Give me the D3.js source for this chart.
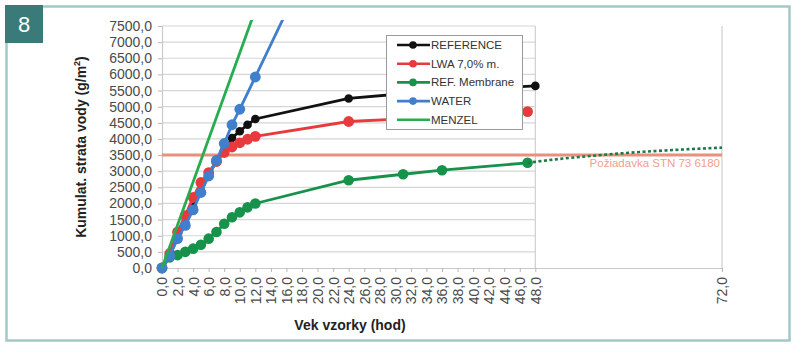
<!DOCTYPE html>
<html>
<head>
<meta charset="utf-8">
<script src="https://cdn.jsdelivr.net/npm/d3@7"></script>
<style>
  html, body { margin: 0; padding: 0; background: #fff; }
  svg { display: block; font-family: "Liberation Sans", Arial, sans-serif; }
</style>
</head>
<body>
<svg id="chart" width="796" height="347"></svg>
<script>
// Cumulative water loss (g/m²) versus specimen age (hours)
const referenceHours = [0, 1, 2, 3, 4, 5, 6, 7, 8, 9, 10, 11, 12, 24, 31, 36, 48];
const referenceValues = [0, 400, 950, 1400, 1900, 2400, 2900, 3300, 3650, 4030, 4240, 4440, 4620, 5255, 5400, 5480, 5644];

const lwaHours = [0, 1, 2, 3, 4, 5, 6, 7, 8, 9, 10, 11, 12, 24, 31, 36, 47];
const lwaValues = [0, 450, 1115, 1625, 2190, 2650, 2955, 3300, 3580, 3750, 3880, 3990, 4080, 4540, 4620, 4700, 4847];

const membraneHours = [0, 1, 2, 3, 4, 5, 6, 7, 8, 9, 10, 11, 12, 24, 31, 36, 47];
const membraneValues = [0, 330, 400, 500, 600, 720, 910, 1115, 1370, 1575, 1725, 1880, 2000, 2720, 2905, 3030, 3260];

const waterHours = [0, 1, 2, 3, 4, 5, 6, 7, 8, 9, 10, 12, 16];
const waterValues = [0, 370, 910, 1320, 1800, 2340, 2850, 3335, 3860, 4440, 4920, 5920, 7940];

const menzelHours = [0, 12];
const menzelValues = [0, 8000];

// extrapolated continuation of the membrane curve
const trendHours = [47, 50, 55, 60, 66, 72];
const trendValues = [3260, 3350, 3470, 3570, 3660, 3730];

const requirementValue = 3500;
const requirementLabel = "Požiadavka STN 73 6180";

const xTickValues = d3.range(0, 49, 2).concat([72]);
const yTickValues = d3.range(0, 7501, 500);

const seriesNames = ["REFERENCE", "LWA 7,0% m.", "REF. Membrane", "WATER", "MENZEL"];
const seriesColors = ["#111111", "#e83a3c", "#16924a", "#3f7fcb", "#27ad4f"];

const svg = d3.select("#chart");

// frame and number badge
svg.append("rect").attr("x", 6.5).attr("y", 6.5).attr("width", 783).attr("height", 334)
  .attr("fill", "none").attr("stroke", "#a3c8c7").attr("stroke-width", 2.5);
svg.append("rect").attr("x", 5).attr("y", 5).attr("width", 38).attr("height", 38).attr("fill", "#3a7b79");
svg.append("text").attr("x", 24).attr("y", 32).attr("text-anchor", "middle")
  .attr("fill", "#fff").attr("font-size", 22).text("8");

const x = d3.scaleLinear().domain([0, 72]).range([162, 722]);
const y = d3.scaleLinear().domain([0, 7500]).range([268, 26]);

const fmt = v => d3.format(".1f")(v).replace(".", ",");

// horizontal grid (0–48 h region)
svg.append("g").selectAll("line").data(yTickValues.slice(1)).join("line")
  .attr("x1", x(0)).attr("x2", x(48))
  .attr("y1", d => y(d)).attr("y2", d => y(d))
  .attr("stroke", "#d6d6d6").attr("stroke-width", 1.2);

// vertical border lines at 48 h and 72 h
svg.append("g").selectAll("line").data([48, 72]).join("line")
  .attr("x1", d => x(d)).attr("x2", d => x(d))
  .attr("y1", y(7500)).attr("y2", y(0))
  .attr("stroke", "#cfcfcf").attr("stroke-width", 1.2);

// axes
const yAxis = svg.append("g").attr("transform", `translate(${x(0)},0)`)
  .call(d3.axisLeft(y).tickValues(yTickValues).tickFormat(fmt).tickSize(4).tickPadding(6));
const xAxis = svg.append("g").attr("transform", `translate(0,${y(0)})`)
  .call(d3.axisBottom(x).tickValues(xTickValues).tickFormat(fmt).tickSize(4));
[yAxis, xAxis].forEach(g => {
  g.select(".domain").attr("stroke", "#c8c8c8").attr("stroke-width", 1.2);
  g.selectAll(".tick line").attr("stroke", "#b8b8b8");
  g.selectAll("text").attr("fill", "#4a4a4a").attr("font-size", 14)
    .attr("font-family", "\"Liberation Sans\", Arial, sans-serif");
});
xAxis.selectAll("text")
  .attr("transform", "rotate(-90)")
  .attr("text-anchor", "end")
  .attr("x", -9).attr("y", 0).attr("dy", "0.35em");

// axis titles
svg.append("text")
  .attr("transform", `translate(86,${(y(0) + y(7500)) / 2}) rotate(-90)`)
  .attr("text-anchor", "middle").attr("font-size", 14).attr("font-weight", "bold").attr("fill", "#222")
  .call(t => {
    t.append("tspan").text("Kumulat. strata vody (g/m");
    t.append("tspan").attr("font-size", 9).attr("dy", -6).text("2");
    t.append("tspan").attr("dy", 6).text(")");
  });
svg.append("text").attr("x", 350).attr("y", 330).attr("text-anchor", "middle")
  .attr("font-size", 14).attr("font-weight", "bold").attr("fill", "#222").text("Vek vzorky (hod)");

// requirement line
svg.append("line").attr("x1", x(0)).attr("x2", x(72))
  .attr("y1", y(requirementValue)).attr("y2", y(requirementValue))
  .attr("stroke", "#e8907c").attr("stroke-width", 3);
svg.append("text").attr("x", x(72) - 2).attr("y", y(requirementValue) + 12)
  .attr("text-anchor", "end").attr("font-size", 11.5).attr("fill", "#f0a08c").text(requirementLabel);

// series
svg.append("clipPath").attr("id", "clip").append("rect")
  .attr("x", 0).attr("y", 20).attr("width", 796).attr("height", 327);
const plot = svg.append("g").attr("clip-path", "url(#clip)");

const line = d3.line().x(d => x(d[0])).y(d => y(d[1]));
const zipPts = (hs, vs) => hs.map((h, i) => [h, vs[i]]);

const series = [
  { pts: zipPts(referenceHours, referenceValues), color: seriesColors[0], marker: 4.3 },
  { pts: zipPts(lwaHours, lwaValues), color: seriesColors[1], marker: 5.4 },
  { pts: zipPts(membraneHours, membraneValues), color: seriesColors[2], marker: 5.3 },
  { pts: zipPts(waterHours, waterValues), color: seriesColors[3], marker: 5.4 },
  { pts: zipPts(menzelHours, menzelValues), color: seriesColors[4], marker: 0 }
];

series.forEach((s, i) => {
  plot.append("path").datum(s.pts).attr("d", line)
    .attr("fill", "none").attr("stroke", s.color).attr("stroke-width", 2.8);
  if (s.marker > 0) {
    plot.append("g").selectAll("circle").data(s.pts).join("circle")
      .attr("cx", d => x(d[0])).attr("cy", d => y(d[1])).attr("r", s.marker)
      .attr("fill", s.color);
  }
  if (i === 2) {
    plot.append("path").datum(zipPts(trendHours, trendValues))
      .attr("d", d3.line().x(d => x(d[0])).y(d => y(d[1])).curve(d3.curveMonotoneX))
      .attr("fill", "none").attr("stroke", "#1b7a45").attr("stroke-width", 2.6)
      .attr("stroke-dasharray", "3,2.5");
  }
});

// legend
const lg = svg.append("g");
lg.append("rect").attr("x", 386.5).attr("y", 35.5).attr("width", 136).attr("height", 94)
  .attr("fill", "#fff").attr("stroke", "#9a9a9a").attr("stroke-width", 1);
seriesNames.forEach((name, i) => {
  const ly = 45 + i * 18.7;
  lg.append("line").attr("x1", 397).attr("x2", 430).attr("y1", ly).attr("y2", ly)
    .attr("stroke", seriesColors[i]).attr("stroke-width", 2.6);
  if (i < 4) {
    lg.append("circle").attr("cx", 413).attr("cy", ly).attr("r", 3.8).attr("fill", seriesColors[i]);
  }
  lg.append("text").attr("x", 431).attr("y", ly).attr("dy", "0.35em")
    .attr("font-size", 11.5).attr("fill", "#333").text(name);
});
</script>
</body>
</html>
